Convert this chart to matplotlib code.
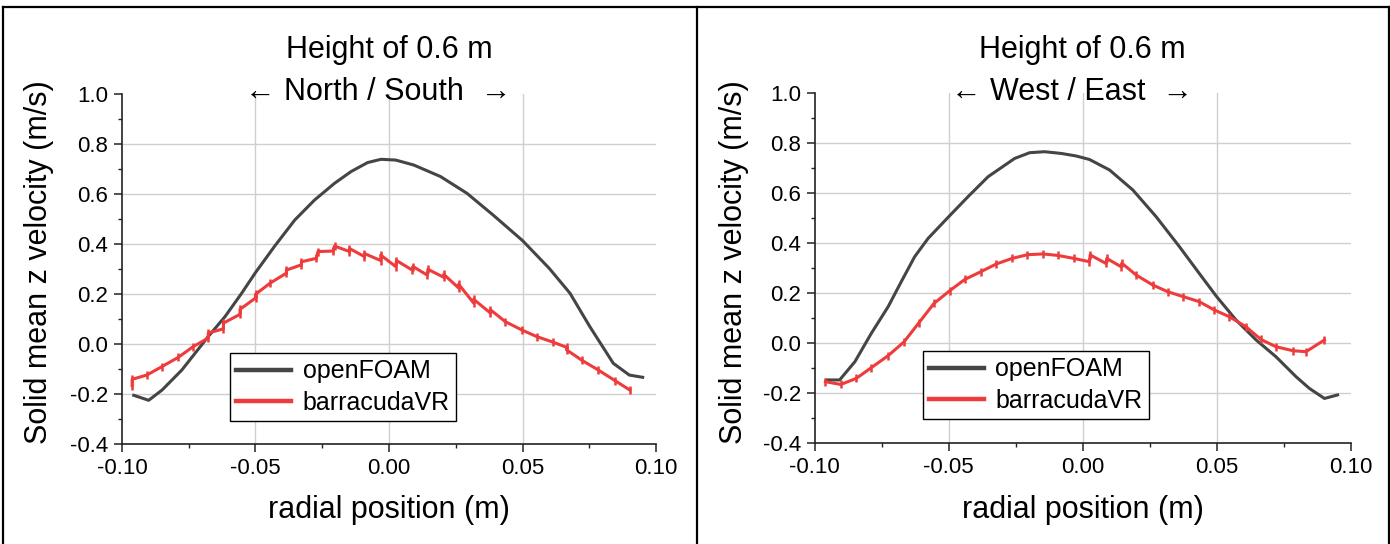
import numpy as np
import matplotlib
matplotlib.use("Agg")
import matplotlib.pyplot as plt
from matplotlib.ticker import MultipleLocator
from matplotlib.lines import Line2D

plt.rcParams['font.family'] = ['Liberation Sans', 'DejaVu Sans']

# --- data --------------------------------------------------------------
# North / South panel
ns_foam_x = [-0.0956, -0.090, -0.085, -0.0776, -0.0677, -0.0614, -0.0552, -0.050,
             -0.0428, -0.0353, -0.0279, -0.0204, -0.0142, -0.008, -0.003, 0.0025,
             0.0093, 0.0193, 0.0292, 0.039, 0.050, 0.060, 0.0678, 0.0752, 0.084,
             0.090, 0.095]
ns_foam_y = [-0.204, -0.224, -0.183, -0.103, 0.031, 0.111, 0.204, 0.287,
             0.393, 0.497, 0.577, 0.644, 0.691, 0.727, 0.740, 0.737,
             0.717, 0.671, 0.604, 0.517, 0.415, 0.304, 0.204, 0.071, -0.076,
             -0.123, -0.132]

ns_barra_x = [-0.0962, -0.0962, -0.0907, -0.085, -0.0789, -0.0733, -0.0677, -0.0677,
              -0.062, -0.062, -0.0558, -0.0558, -0.050, -0.050, -0.0446, -0.0384,
              -0.0384, -0.0328, -0.0328, -0.0272, -0.0266, -0.021, -0.0204, -0.0148,
              -0.0148, -0.0092, -0.0092, -0.0031, -0.0031, 0.0025, 0.0028, 0.0087,
              0.0090, 0.0143, 0.0146, 0.0205, 0.0205, 0.0261, 0.0261, 0.0317,
              0.0317, 0.038, 0.038, 0.0435, 0.0498, 0.0553, 0.0616, 0.0665,
              0.0665, 0.0721, 0.0784, 0.0846, 0.0902]
ns_barra_y = [-0.165, -0.140, -0.123, -0.089, -0.052, -0.009, 0.025, 0.045,
              0.062, 0.085, 0.120, 0.140, 0.185, 0.200, 0.244, 0.285,
              0.297, 0.318, 0.330, 0.344, 0.371, 0.373, 0.393, 0.371,
              0.383, 0.351, 0.363, 0.335, 0.357, 0.311, 0.335, 0.297,
              0.311, 0.277, 0.300, 0.268, 0.280, 0.225, 0.240, 0.165,
              0.180, 0.125, 0.138, 0.091, 0.057, 0.031, 0.008, -0.012,
              -0.022, -0.063, -0.103, -0.145, -0.183]

# West / East panel
we_foam_x = [-0.0956, -0.0907, -0.085, -0.0789, -0.0726, -0.0677, -0.0627, -0.0577,
             -0.050, -0.0428, -0.0353, -0.0254, -0.0198, -0.0142, -0.008, -0.0025,
             0.0025, 0.010, 0.0187, 0.0274, 0.0361, 0.0435, 0.050, 0.0572,
             0.0647, 0.0721, 0.0796, 0.0846, 0.0902, 0.0951]
we_foam_y = [-0.149, -0.149, -0.076, 0.037, 0.144, 0.244, 0.344, 0.417,
             0.504, 0.584, 0.664, 0.737, 0.760, 0.764, 0.757, 0.747,
             0.733, 0.691, 0.611, 0.504, 0.384, 0.277, 0.184, 0.091,
             0.011, -0.056, -0.136, -0.183, -0.223, -0.209]

we_barra_x = [-0.096, -0.0903, -0.0845, -0.0789, -0.0726, -0.0667, -0.0611, -0.0555,
              -0.0496, -0.044, -0.038, -0.0322, -0.0264, -0.0206, -0.0148, -0.0092,
              -0.0032, 0.0025, 0.0028, 0.0087, 0.0090, 0.0143, 0.0146, 0.0199,
              0.0261, 0.0317, 0.0376, 0.0435, 0.0491, 0.0547, 0.0609, 0.0665,
              0.0721, 0.0784, 0.0833, 0.0902]
we_barra_y = [-0.156, -0.167, -0.143, -0.100, -0.052, 0.003, 0.080, 0.157,
              0.208, 0.253, 0.284, 0.315, 0.337, 0.352, 0.355, 0.349,
              0.337, 0.324, 0.351, 0.317, 0.337, 0.304, 0.318, 0.271,
              0.231, 0.204, 0.184, 0.164, 0.131, 0.104, 0.064, 0.013,
              -0.016, -0.032, -0.036, 0.011]

series_names = ["openFOAM", "barracudaVR"]
panel_titles = ["Height of 0.6 m", "Height of 0.6 m"]
panel_dirs = ["\u2190 North / South  \u2192", "\u2190 West / East  \u2192"]

FOAM_COLOR = "#454545"
BARRA_COLOR = "#ee3b3b"

W, H = 1390, 544
fig = plt.figure(figsize=(W / 100, H / 100), dpi=100)

# axes boxes in pixels: left, top(1.0), right, bottom(-0.4)
boxes = [(122, 94.3, 656, 444.3), (814.7, 92.7, 1350.7, 442.7)]
legend_px = [(230, 421), (923, 419)]
ylabel_px = [39, 734]

panels = [
    (ns_foam_x, ns_foam_y, ns_barra_x, ns_barra_y),
    (we_foam_x, we_foam_y, we_barra_x, we_barra_y),
]

for i, (fx, fy, bx, by) in enumerate(panels):
    l, t, r, b = boxes[i]
    ax = fig.add_axes([l / W, 1 - b / H, (r - l) / W, (b - t) / H])
    aw, ah = r - l, b - t

    ax.plot(fx, fy, color=FOAM_COLOR, lw=2.2, label=series_names[0], zorder=3)
    ax.plot(bx, by, color=BARRA_COLOR, lw=2.2, label=series_names[1], zorder=4)
    ax.plot(bx, by, ls="none", marker="|", ms=6, mew=1.8, color=BARRA_COLOR, zorder=4)

    ax.set_xlim(-0.10, 0.10)
    ax.set_ylim(-0.4, 1.0)
    ax.xaxis.set_major_locator(MultipleLocator(0.05))
    ax.xaxis.set_minor_locator(MultipleLocator(0.025))
    ax.yaxis.set_major_locator(MultipleLocator(0.2))
    ax.yaxis.set_minor_locator(MultipleLocator(0.1))
    ax.xaxis.set_major_formatter(lambda v, p: f"{v:.2f}")
    ax.yaxis.set_major_formatter(lambda v, p: f"{v:.1f}")

    for s in ["top", "right"]:
        ax.spines[s].set_visible(False)
    for s in ["left", "bottom"]:
        ax.spines[s].set_linewidth(1.2)
        ax.spines[s].set_color("#222222")

    ax.tick_params(which="major", direction="out", length=6, width=1.1,
                   labelsize=16, pad=4, color="#222222")
    ax.tick_params(which="minor", direction="out", length=3, width=1.0,
                   color="#222222")

    # light grid, without lines on top edge / right edge
    ax.grid(True, which="major", color="#cfcfcf", lw=1.0, zorder=0)
    for gl, v in zip(ax.get_ygridlines(), ax.get_yticks()):
        if abs(v - 1.0) < 1e-6 or abs(v + 0.4) < 1e-6:
            gl.set_visible(False)
    for gl, v in zip(ax.get_xgridlines(), ax.get_xticks()):
        if abs(abs(v) - 0.10) < 1e-6:
            gl.set_visible(False)

    ax.set_xlabel("radial position (m)", fontsize=22)
    ax.xaxis.label.set_va("center")
    ax.xaxis.set_label_coords(0.5, (b - 510) / ah)
    ax.set_ylabel("Solid mean z velocity (m/s)", fontsize=22)
    ax.yaxis.label.set_va("center")
    ax.yaxis.set_label_coords((ylabel_px[i] - l) / aw, (b - 262) / ah)

    ax.text(0.5, (b - 50) / ah, panel_titles[i], transform=ax.transAxes,
            ha="center", va="center", fontsize=22)
    ax.text(0.48, (b - 92) / ah, panel_dirs[i], transform=ax.transAxes,
            ha="center", va="center", fontsize=22)

    lx, ly = legend_px[i]
    leg = ax.legend(loc="lower left", bbox_to_anchor=((lx - l) / aw, (b - ly) / ah),
                    borderaxespad=0, fontsize=18, handlelength=2.2,
                    fancybox=False, framealpha=1, edgecolor="black",
                    borderpad=0.25, labelspacing=0.3, handletextpad=0.45)
    leg.get_frame().set_linewidth(1.0)
    for h in leg.get_lines():
        h.set_linewidth(3.2)

# outer frame and divider, as in the reference
top = 1 - 7.3 / H
for xs, ys in [([2.7 / W, 2.7 / W], [0, top]),
               ([1389 / W, 1389 / W], [0, top]),
               ([696.7 / W, 696.7 / W], [0, top]),
               ([2.7 / W, 1389 / W], [top, top])]:
    fig.add_artist(Line2D(xs, ys, transform=fig.transFigure, color="black", lw=1.6))

fig.savefig("out.png", dpi=100, facecolor="white")
